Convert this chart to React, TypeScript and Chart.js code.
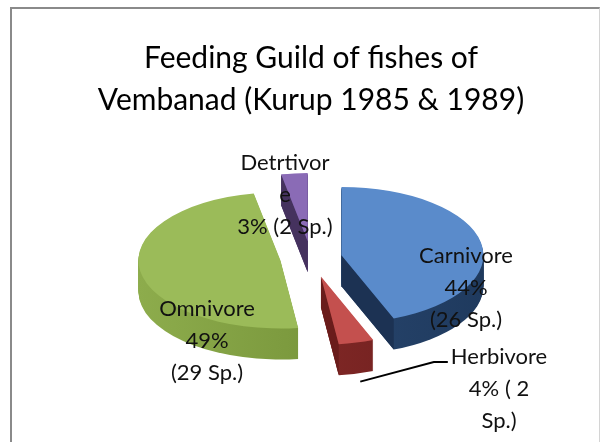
import React, { useEffect, useRef } from 'react';
import { Chart, registerables } from 'chart.js';

Chart.register(...registerables);

// ---- data ----
const categories = ['Carnivore', 'Herbivore', 'Omnivore', 'Detrtivore'];
const percentages = [44, 4, 49, 3];
const species = [26, 2, 29, 2];
const titleLines = ['Feeding Guild of fishes of', 'Vembanad (Kurup 1985 & 1989)'];

// label text as wrapped in the original
const labelLines = [
  [categories[0], `${percentages[0]}%`, `(${species[0]} Sp.)`],
  [categories[1], `${percentages[1]}% ( ${species[1]}`, 'Sp.)'],
  [categories[2], `${percentages[2]}%`, `(${species[2]} Sp.)`],
  ['Detrtivor', 'e', `${percentages[3]}% (${species[3]} Sp.)`],
];

// ---- style ----
const topColors = ['#5a8bcb', '#c4504e', '#9bbb59', '#8a6bb6'];
const wallLight = ['#2d4d78', '#8e2e2c', '#8dac4c', '#5f4786'];
const wallDark = ['#1f3a5e', '#6e1f1e', '#6e8b33', '#4a3566'];
const cutColors = ['#1c3253', '#6a1c1b', '#6b8532', '#45325e'];
const explode = [31, 40, 31, 35];
const labelOffsets = [[155, 30], [188, 131], [-104, 83], [-26, -63]];
const K = 0.48;
const DEPTH = 31;
const LINE_H = 32;
const LABEL_FONT = '22px Lato';

const pie3d = {
  id: 'pie3d',
  beforeDatasetsDraw(chart: any) {
    const ctx: CanvasRenderingContext2D = chart.ctx;
    const arcs: any[] = chart.getDatasetMeta(0).data;
    if (!arcs.length) return false;
    const cx = arcs[0].x;
    const cy = arcs[0].y;
    const mid = (a: any) => (a.startAngle + a.endAngle) / 2;
    const order = arcs.map((_, i) => i).sort((i, j) => Math.sin(mid(arcs[i])) - Math.sin(mid(arcs[j])));
    for (const i of order) {
      const a = arcs[i];
      const m = mid(a);
      const ex = Math.cos(m) * explode[i];
      const ey = Math.sin(m) * explode[i];
      const sx = cx + ex;
      const sy = cy + K * ey;
      const r = a.outerRadius;
      const s = a.startAngle;
      const e = a.endAngle;
      // side walls (extruded volume)
      const grad = ctx.createLinearGradient(sx - r, 0, sx + r, 0);
      grad.addColorStop(0, wallLight[i]);
      grad.addColorStop(1, wallDark[i]);
      ctx.save();
      ctx.fillStyle = grad;
      for (let d = DEPTH; d >= 1; d--) {
        ctx.beginPath();
        ctx.moveTo(sx, sy + d);
        ctx.ellipse(sx, sy + d, r, K * r, 0, s, e);
        ctx.closePath();
        ctx.fill();
      }
      // visible cut faces
      const faces: number[] = [];
      if (-Math.cos(s) > 0.01) faces.push(s);
      if (Math.cos(e) > 0.01) faces.push(e);
      ctx.fillStyle = cutColors[i];
      for (const ang of faces) {
        const px = sx + r * Math.cos(ang);
        const py = sy + K * r * Math.sin(ang);
        ctx.beginPath();
        ctx.moveTo(sx, sy);
        ctx.lineTo(px, py);
        ctx.lineTo(px, py + DEPTH);
        ctx.lineTo(sx, sy + DEPTH);
        ctx.closePath();
        ctx.fill();
      }
      ctx.restore();
      // top face drawn by the library's arc element
      ctx.save();
      ctx.translate(sx, sy);
      ctx.scale(1, K);
      ctx.translate(-cx, -cy);
      a.draw(ctx);
      ctx.restore();
    }
    return false;
  },
  afterDraw(chart: any) {
    const ctx: CanvasRenderingContext2D = chart.ctx;
    const arcs: any[] = chart.getDatasetMeta(0).data;
    if (!arcs.length) return;
    const cx = arcs[0].x;
    const cy = arcs[0].y;
    ctx.save();
    ctx.font = LABEL_FONT;
    ctx.fillStyle = '#111';
    ctx.textAlign = 'center';
    ctx.textBaseline = 'middle';
    arcs.forEach((a, i) => {
      const lines = labelLines[i];
      const lx = cx + labelOffsets[i][0];
      const ly = cy + labelOffsets[i][1];
      const y0 = ly - ((lines.length - 1) * LINE_H) / 2;
      lines.forEach((t, k) => ctx.fillText(t, lx, y0 + k * LINE_H));
      if (i === 1) {
        // leader line to the herbivore slice
        const m = (a.startAngle + a.endAngle) / 2;
        const sx = cx + Math.cos(m) * explode[i];
        const sy = cy + K * Math.sin(m) * explode[i];
        const px = sx + a.outerRadius * Math.cos(m);
        const py = sy + K * a.outerRadius * Math.sin(m) + DEPTH;
        const w = ctx.measureText(lines[0]).width;
        const x0 = lx - w / 2 - 3;
        const yl = y0 + 5;
        ctx.beginPath();
        ctx.moveTo(x0, yl);
        ctx.lineTo(x0 - 14, yl);
        ctx.lineTo(px + 4, py + 8);
        ctx.strokeStyle = '#000';
        ctx.lineWidth = 2;
        ctx.stroke();
      }
    });
    ctx.restore();
  },
};

export default function App() {
  const ref = useRef<HTMLCanvasElement>(null);
  useEffect(() => {
    const chart = new Chart(ref.current as HTMLCanvasElement, {
      type: 'pie',
      data: {
        labels: categories,
        datasets: [
          {
            data: percentages,
            backgroundColor: topColors,
            borderWidth: 0,
            radius: 142,
            offset: 0,
            hoverOffset: 0,
            clip: false as any,
          } as any,
        ],
      },
      options: {
        animation: false,
        responsive: true,
        maintainAspectRatio: false,
        events: [],
        layout: { padding: { left: 22, right: 0, top: 0, bottom: 47 } },
        plugins: {
          legend: { display: false },
          tooltip: { enabled: false },
          title: {
            display: true,
            text: titleLines,
            color: '#000',
            font: { family: 'Lato', size: 30, weight: 'normal', lineHeight: 1.4 },
            padding: { top: 37, bottom: 0 },
          },
        },
      } as any,
      plugins: [pie3d],
    });
    return () => chart.destroy();
  }, []);
  return (
    <div style={{ position: 'fixed', left: 0, top: 0, width: 600, height: 442, overflow: 'hidden', background: '#fff' }}>
      <div
        style={{
          position: 'absolute',
          left: 10,
          top: 7,
          width: 587,
          height: 470,
          borderLeft: '2px solid #8a8a8a',
          borderTop: '2px solid #8a8a8a',
          borderRight: '1px solid #d4d4d4',
        }}
      />
      <div style={{ position: 'absolute', left: 0, top: 0, width: 600, height: 442 }}>
        <canvas ref={ref} />
      </div>
    </div>
  );
}
